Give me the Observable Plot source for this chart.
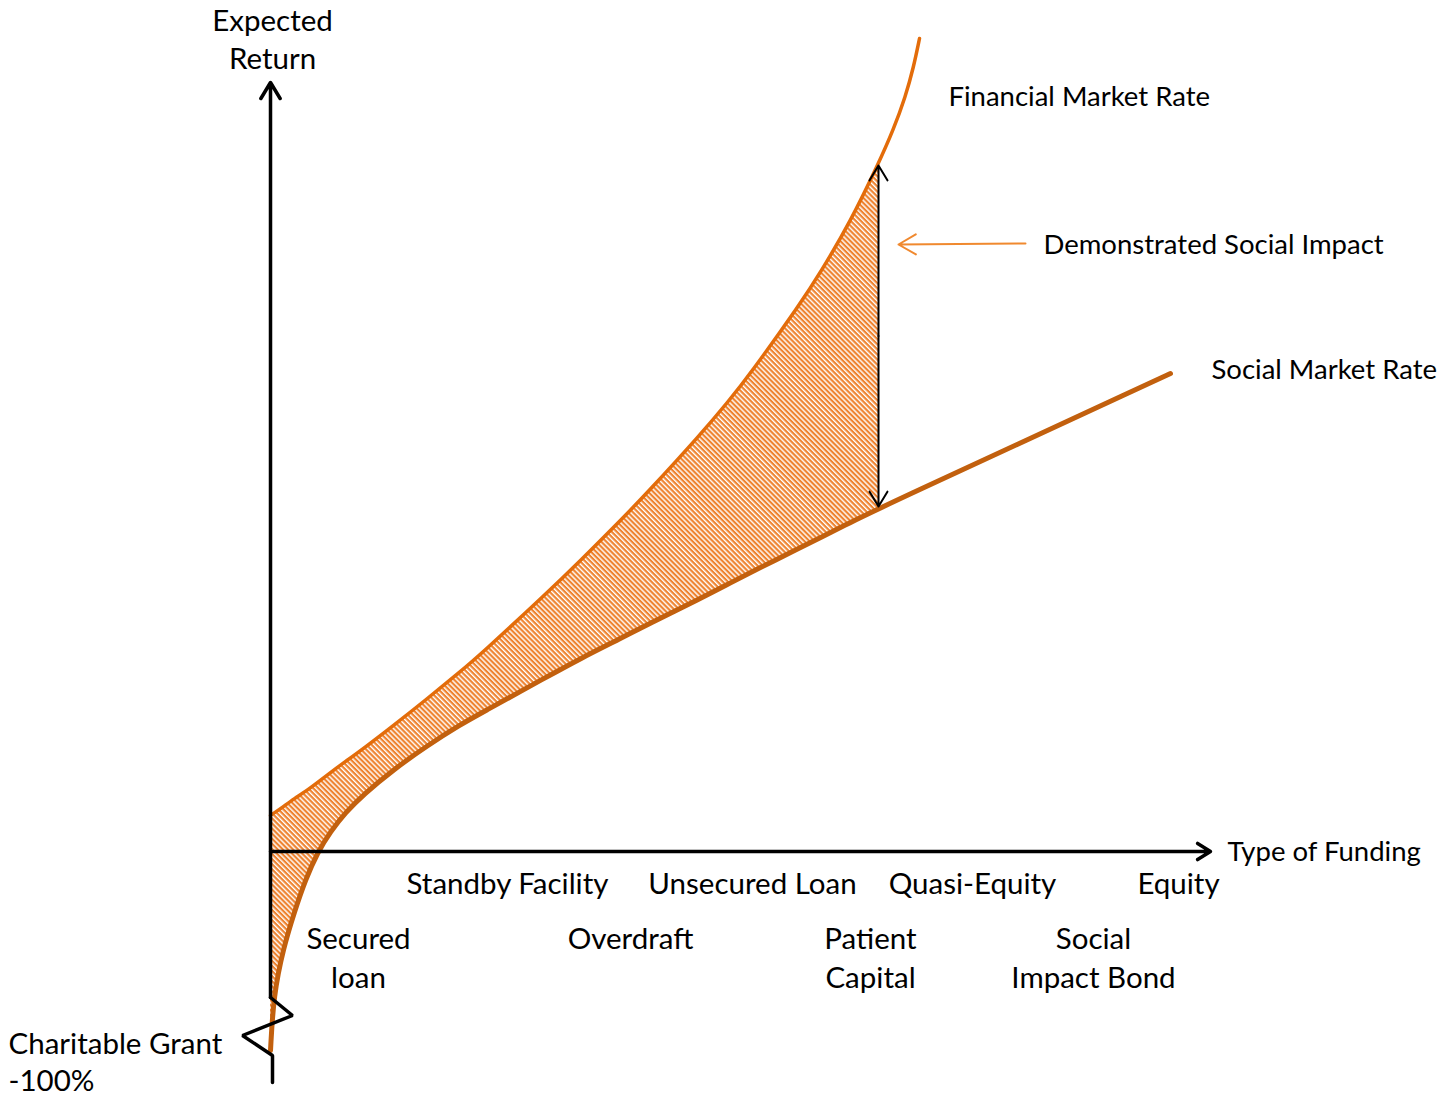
<!DOCTYPE html>
<html><head><meta charset="utf-8">
<script src="https://cdn.jsdelivr.net/npm/d3@7"></script>
<script src="https://cdn.jsdelivr.net/npm/@observablehq/plot@0.6"></script>
<style>html,body{margin:0;padding:0;background:#fff;} #chart svg{display:block}</style>
</head><body><div id="chart"></div>
<script>
// Funding-type axis position (x) and expected return (y)
const fundingX      = [0, 3, 13, 24, 35, 47, 60, 75, 93, 123, 157, 190, 210, 277, 310, 350, 377, 430, 457, 480, 530, 550, 580, 608];
const financialRate = [36, 38, 45, 53, 60, 69, 79, 90, 103, 126, 153, 180, 197, 259, 291, 331, 359, 417, 449, 478, 548, 579, 630, 688];
const socialRate    = [-199, -144, -96, -60, -28, -1, 20, 39, 57, 82, 106, 127, 138, 175, 193, 213, 227, 253, 267, 279, 304, 314, 329, 343];
const financialTailX = [623, 635, 643, 649];
const financialTail  = [722, 755, 784, 813];
const socialTailX = [900];
const socialTail  = [478];

// Axis extents and the broken-axis zigzag
const xAxisEnd = 940;
const yAxisTop = 769;
const axisBreakX = [0, 22, -28, 2, 2];
const axisBreakY = [-146, -164, -184, -204, -231];

// Labels
const topRowLabels = ["Standby Facility", "Unsecured Loan", "Quasi-Equity", "Equity"];
const topRowX = [237, 482, 702, 908];
const topRowY = -33;
const bottomRowLabels = ["Secured\nloan", "Overdraft", "Patient\nCapital", "Social\nImpact Bond"];
const bottomRowX = [88, 360, 600, 823];
const bottomRowY = [-107.5, -88, -107.5, -107.5];
const sideLabels = ["Financial Market Rate", "Demonstrated Social Impact", "Social Market Rate", "Type of Funding"];
const sideLabelX = [678, 773, 941, 957];
const sideLabelY = [754, 606, 481, -1];
const impactPointer = {x1: 755, y1: 608, x2: 628, y2: 607};

// Tables built from the arrays
const gap = fundingX.map((x, i) => ({x, financial: financialRate[i], social: socialRate[i]}));
const financialLine = [...fundingX.map((x, i) => ({x, y: financialRate[i]})),
                       ...financialTailX.map((x, i) => ({x, y: financialTail[i]}))];
const socialLine = [...fundingX.map((x, i) => ({x, y: socialRate[i]})),
                    ...socialTailX.map((x, i) => ({x, y: socialTail[i]}))];
const last = gap[gap.length - 1];
const gapMid = (last.financial + last.social) / 2;
const breakPts = axisBreakX.map((x, i) => ({x, y: axisBreakY[i]}));

const font = "Lato, 'Open Sans', sans-serif";
const fsSide = 27.5;
const fsRow = 29.5;

const chart = Plot.plot({
  width: 1445, height: 1097,
  margin: 0,
  x: {domain: [-270, 1175], axis: null},
  y: {domain: [-246, 851], axis: null},
  style: {background: "white", fontFamily: font, color: "black"},
  marks: [
    Plot.areaY(gap, {x: "x", y1: "social", y2: "financial", fill: "url(#hatch)", curve: "basis"}),
    Plot.line(financialLine, {x: "x", y: "y", stroke: "#E36C0A", strokeWidth: 3.5, curve: "basis", strokeLinecap: "round"}),
    Plot.line(socialLine, {x: "x", y: "y", stroke: "#C2600E", strokeWidth: 5, curve: "basis", strokeLinecap: "round"}),
    // axes
    Plot.line(breakPts, {x: "x", y: "y", stroke: "black", strokeWidth: 3.5, strokeLinejoin: "miter"}),
    Plot.arrow([0], {x1: 0, y1: axisBreakY[0], x2: 0, y2: yAxisTop, stroke: "black", strokeWidth: 3.5, headLength: 8, headAngle: 62}),
    Plot.arrow([0], {x1: 0, y1: 0, x2: xAxisEnd, y2: 0, stroke: "black", strokeWidth: 3.5, headLength: 6.5, headAngle: 64}),
    // demonstrated social impact double arrow
    Plot.arrow([0], {x1: last.x, y1: gapMid, x2: last.x, y2: last.financial - 2, stroke: "black", strokeWidth: 2, headLength: 13, headAngle: 62}),
    Plot.arrow([0], {x1: last.x, y1: gapMid, x2: last.x, y2: last.social + 2, stroke: "black", strokeWidth: 2, headLength: 13, headAngle: 62}),
    Plot.arrow([impactPointer], {x1: "x1", y1: "y1", x2: "x2", y2: "y2", stroke: "#F0892F", strokeWidth: 2, headLength: 15, headAngle: 60}),
    // labels
    Plot.text(["Expected\nReturn"], {x: 2, y: 814, text: d => d, fontSize: fsRow, lineHeight: 1.32, fill: "black"}),
    Plot.text(sideLabels, {x: (d, i) => sideLabelX[i], y: (d, i) => sideLabelY[i], text: d => d, textAnchor: "start", fontSize: fsSide, fill: "black"}),
    Plot.text(topRowLabels, {x: (d, i) => topRowX[i], y: topRowY, text: d => d, fontSize: fsRow, fill: "black"}),
    Plot.text(bottomRowLabels, {x: (d, i) => bottomRowX[i], y: (d, i) => bottomRowY[i] + 3, text: d => d, fontSize: fsRow, lineHeight: 1.32, fill: "black"}),
    Plot.text(["Charitable Grant\n-100%"], {x: -262, y: -209, text: d => d, textAnchor: "start", fontSize: fsRow, lineHeight: 1.25, fill: "black"})
  ]
});

// hatch pattern for the social impact gap
const svgNS = "http://www.w3.org/2000/svg";
const defs = document.createElementNS(svgNS, "defs");
defs.innerHTML = `<pattern id="hatch" patternUnits="userSpaceOnUse" width="8" height="3.6" patternTransform="rotate(45)">
  <rect width="8" height="3.6" fill="white"/><rect width="8" height="2.2" fill="#EE8330"/></pattern>`;
chart.insertBefore(defs, chart.firstChild);
document.getElementById("chart").appendChild(chart);
</script>
</body></html>
